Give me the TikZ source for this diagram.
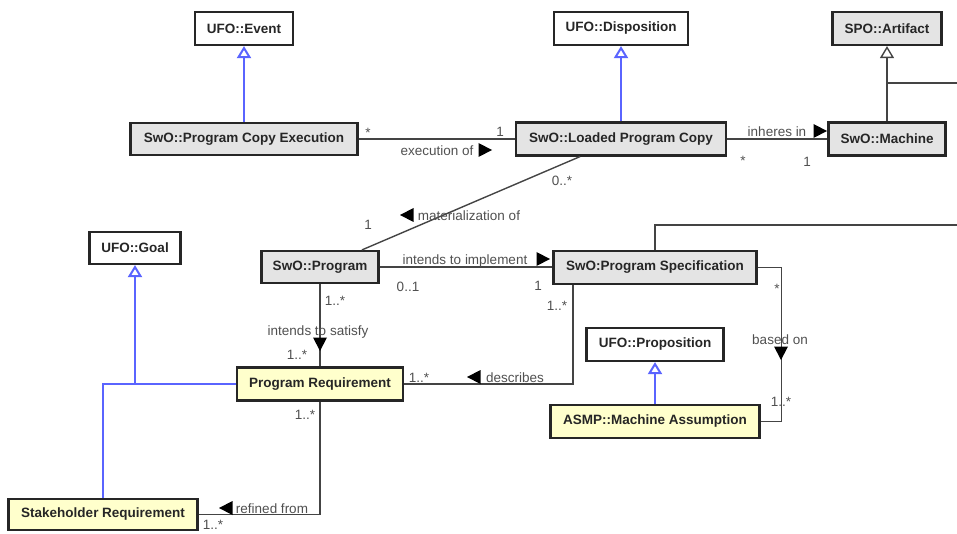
\documentclass[tikz,border=0pt]{standalone}
\usepackage{fontspec}
\setmainfont{Liberation Sans}
\usetikzlibrary{arrows.meta}
\definecolor{boxgray}{HTML}{E4E4E4}
\definecolor{reqyellow}{HTML}{FFFFCC}
\definecolor{genblue}{HTML}{5A64FF}
\definecolor{assoc}{HTML}{444444}
\definecolor{labelgray}{HTML}{505050}
\begin{document}
\begin{tikzpicture}[x=1pt,y=-1pt,
  cls/.style={draw=black!85, line width=2.2pt, inner sep=0pt,
    font=\fontsize{13.5}{16}\selectfont\bfseries, text=black!85},
  plainbox/.style={cls, fill=white},
  corebox/.style={cls, fill=boxgray},
  reqbox/.style={cls, fill=reqyellow},
  assocline/.style={draw=assoc, line width=1.4pt},
  genline/.style={draw=genblue, line width=2pt},
  gentip/.style={genline, -{Triangle[open, length=12pt, width=14pt, fill=white]}},
  isatip/.style={assocline, -{Triangle[open, length=12pt, width=14pt, fill=white]}},
  lbl/.style={inner sep=0pt, font=\fontsize{13.5}{16}\selectfont, text=labelgray},
  navR/.pic={\fill[black] (-6.5,-7) -- (7,0) -- (-6.5,7) -- cycle;},
  navL/.pic={\fill[black] (6.5,-7) -- (-7,0) -- (6.5,7) -- cycle;},
  navD/.pic={\fill[black] (-7,-6.5) -- (7,-6.5) -- (0,7) -- cycle;}
]
\useasboundingbox (0,0) rectangle (957,534);

% classes
\node[plainbox, minimum width=98pt,  minimum height=33pt] (ev)   at (244,28.5)  {UFO::Event};
\node[plainbox, minimum width=134pt, minimum height=33pt] (disp) at (621,28.5)  {UFO::Disposition};
\node[corebox,  minimum width=109pt, minimum height=33pt] (art)  at (887,28.5)  {SPO::Artifact};
\node[corebox,  minimum width=227pt, minimum height=32pt] (pce)  at (244,139)   {SwO::Program Copy Execution};
\node[corebox,  minimum width=210pt, minimum height=33pt] (lpc)  at (621,139)   {SwO::Loaded Program Copy};
\node[corebox,  minimum width=117pt, minimum height=33pt] (mach) at (887,139)   {SwO::Machine};
\node[plainbox, minimum width=91pt,  minimum height=32pt] (goal) at (135,248)   {UFO::Goal};
\node[corebox,  minimum width=117pt, minimum height=32pt] (prog) at (320,267)   {SwO::Program};
\node[corebox,  minimum width=203pt, minimum height=33pt] (spec) at (655,267.5) {SwO:Program Specification};
\node[plainbox, minimum width=137pt, minimum height=33pt] (prop) at (655,344.5) {UFO::Proposition};
\node[reqbox,   minimum width=166pt, minimum height=33pt] (preq) at (320,384)   {Program Requirement};
\node[reqbox,   minimum width=209pt, minimum height=33pt] (masm) at (655,421.5) {ASMP::Machine Assumption};
\node[reqbox,   minimum width=189pt, minimum height=31pt] (sreq) at (103,514.5) {Stakeholder Requirement};

% generalizations
\draw[gentip] (pce.north) -- (ev.south);
\draw[gentip] (lpc.north) -- (disp.south);
\draw[gentip] (masm.north) -- (prop.south);
\draw[isatip] (mach.north) -- (art.south);
\coordinate (artbranch) at (887,83);
\coordinate (artout) at (957,83);
\draw[assocline] (artbranch) -- (artout);
\draw[gentip] (goal.south |- preq.west) -- (goal.south);
\draw[genline] (preq.west) -| (sreq.north);

% associations
\draw[assocline] (pce.east) -- (lpc.west);
\draw[assocline] (lpc.east) -- (mach.west);
\draw[assocline] ([xshift=-41pt]lpc.south) -- ([xshift=42pt]prog.north);
\draw[assocline] (prog.east) -- (prog.east -| spec.west);
\draw[assocline] (prog.south) -- (preq.north);
\draw[assocline] (spec.east) -| ([xshift=21pt]masm.east) -- (masm.east);
\draw[assocline] ([xshift=-82pt]spec.south) |- (preq.east);
\draw[assocline] (preq.south) |- (sreq.east);
\coordinate (specout) at (957,225);
\draw[assocline] (spec.north) |- (specout);

% role names and multiplicities
\node[lbl] (mPceStar) at (368,133) {*};
\node[lbl] (mLpcOne)  at (500,132) {1};
\node[lbl] (tExec)    at (437,151) {execution of};
\pic at (485,150) {navR};

\node[lbl] (tInh)     at (777,132) {inheres in};
\pic at (820,131) {navR};
\node[lbl] (mLpcStar) at (743,161) {*};
\node[lbl] (mMachOne) at (807,162) {1};

\node[lbl] (mMatMany) at (562,181) {0..*};
\node[lbl] (mMatOne)  at (368,225) {1};
\pic at (407,215) {navL};
\node[lbl] (tMat)     at (469,216) {materialization of};

\node[lbl] (tImpl)    at (465,261) {intends to implement};
\pic at (543,259) {navR};
\node[lbl] (mImplA)   at (408,287) {0..1};
\node[lbl] (mImplB)   at (538,286) {1};

\node[lbl] (mDescA)   at (557,306) {1..*};
\node[lbl] (mBaseA)   at (777,289) {*};
\node[lbl] (tBase)    at (780,340) {based on};
\pic at (781,353) {navD};
\node[lbl] (mBaseB)   at (781,402) {1..*};

\node[lbl] (mSatA)    at (335,301) {1..*};
\node[lbl] (tSat)     at (318,332) {intends to satisfy};
\pic at (320,344) {navD};
\node[lbl] (mSatB)    at (297,355) {1..*};

\node[lbl] (mDescB)   at (419,378) {1..*};
\pic at (474,377) {navL};
\node[lbl] (tDesc)    at (515,378) {describes};

\node[lbl] (mRefA)    at (305,415) {1..*};
\pic at (226,508) {navL};
\node[lbl] (tRef)     at (272,509) {refined from};
\node[lbl] (mRefB)    at (213,525) {1..*};
\end{tikzpicture}
\end{document}
